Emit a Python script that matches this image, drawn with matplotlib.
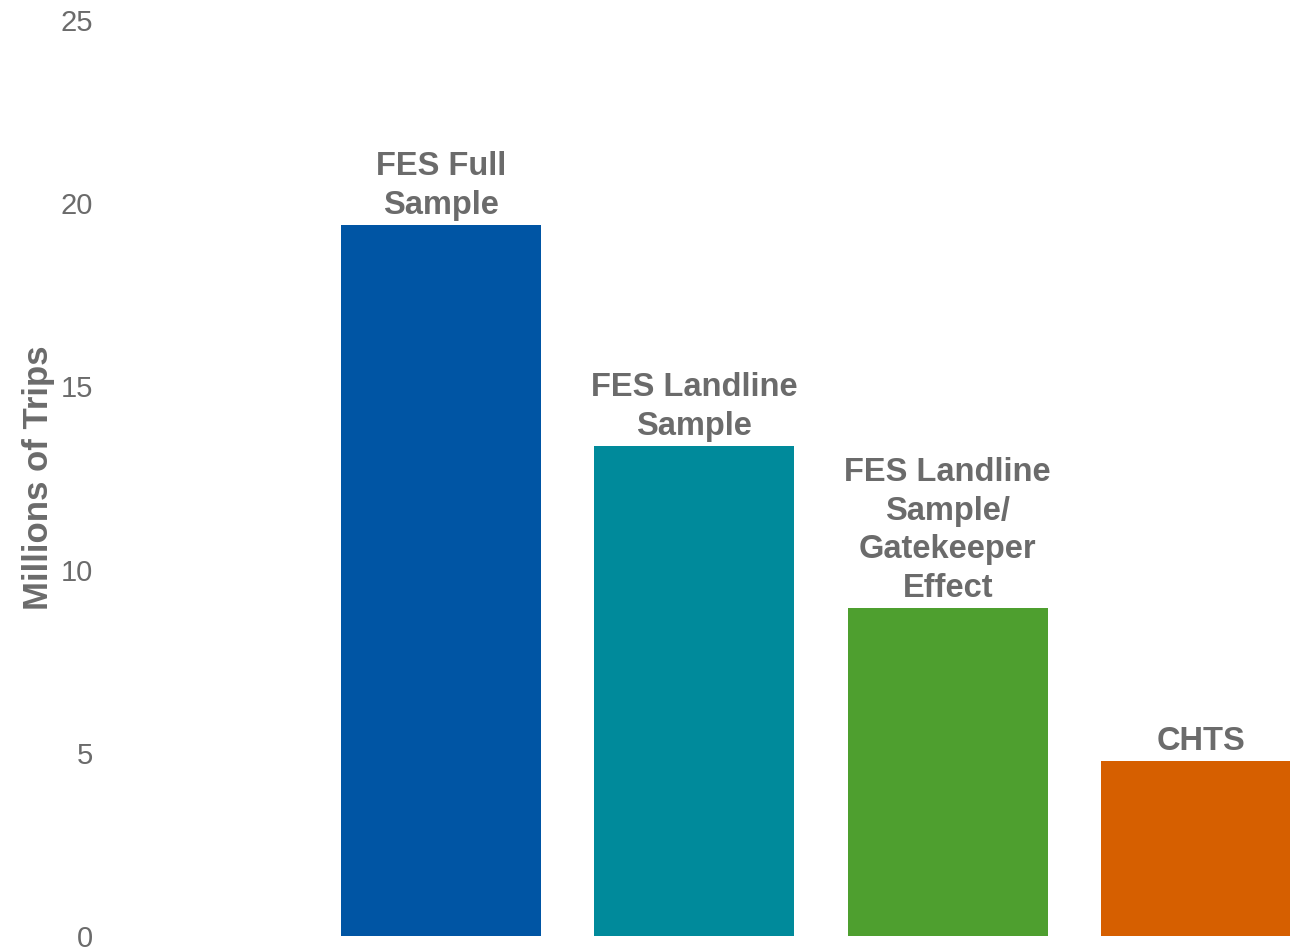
import matplotlib
matplotlib.use("Agg")
import matplotlib.pyplot as plt
from matplotlib import font_manager

categories = ["FES Full\nSample", "FES Landline\nSample", "FES Landline\nSample/\nGatekeeper\nEffect", "CHTS"]
trips = [19.4, 13.37, 8.95, 4.78]
colors = ["#0055A4", "#008A9B", "#4E9F2F", "#D65F00"]
yticks = [0, 5, 10, 15, 20, 25]

names = {f.name for f in font_manager.fontManager.ttflist}
fam = ["Liberation Sans Narrow", "Liberation Sans", "DejaVu Sans"]
fam = [f for f in fam if f in names] or ["DejaVu Sans"]
plt.rcParams['font.family'] = fam

gray = "#6B6B6B"

fig = plt.figure(figsize=(12.9, 9.5), dpi=100)
ax = fig.add_axes([100 / 1290, 14 / 950, 1 - 100 / 1290, 1 - 34 / 950])

x = list(range(len(categories)))
bars = ax.bar(x, trips, width=0.79, color=colors)

for b, lab in zip(bars, categories):
    ax.annotate(lab, (b.get_x() + b.get_width() / 2, b.get_height()),
                xytext=(0, 3), textcoords="offset points",
                ha="center", va="bottom", fontsize=23.5, fontweight="bold",
                color=gray, linespacing=1.32)

ax.set_ylim(0, 25)
ax.set_xlim(-1.346, 3.351)
ax.set_yticks(yticks)
ax.set_xticks([])
ax.tick_params(axis="y", length=0, pad=5, labelsize=21, labelcolor=gray)
for s in ax.spines.values():
    s.set_visible(False)
ax.set_ylabel("Millions of Trips", fontsize=25, fontweight="bold", color=gray, labelpad=4)

fig.savefig("out.png", dpi=100)
